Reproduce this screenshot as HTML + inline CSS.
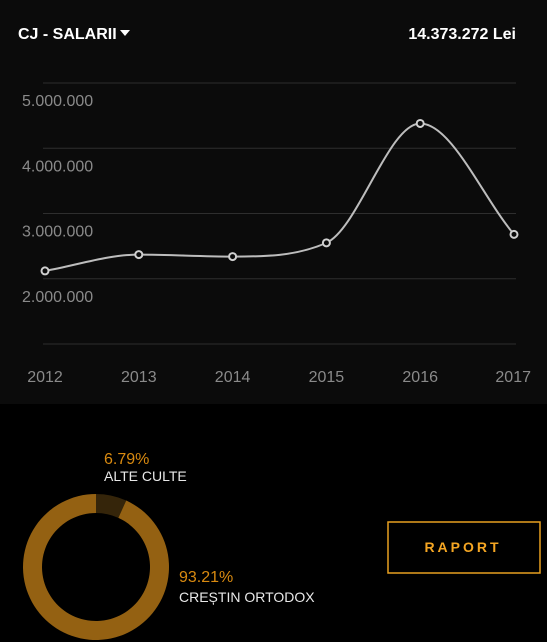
<!DOCTYPE html>
<html><head><meta charset="utf-8"><style>
html,body{margin:0;padding:0;background:#000;width:547px;height:642px;overflow:hidden;font-family:"Liberation Sans",sans-serif}
#top{position:absolute;left:0;top:0;width:547px;height:404px;background:#0b0b0b}
svg{position:absolute;left:0;top:0}
</style></head><body>
<div id="top"></div>
<svg id="chart" width="547" height="642">
  <text x="18" y="39" fill="#fff" font-size="16" font-weight="bold">CJ - SALARII</text>
  <path d="M120,30 L130,30 L125,36 Z" fill="#fff"/>
  <text x="516" y="39" fill="#fff" font-size="16" font-weight="bold" text-anchor="end">14.373.272 Lei</text>
  <g id="grid"></g><g id="yl"></g><g id="xl"></g><path id="line" fill="none" stroke="#bdbdbd" stroke-width="2"/><g id="pts"></g>
  <g id="donut"></g>
  <text x="104" y="464" fill="#d98a10" font-size="16">6.79%</text>
  <text x="104" y="481" fill="#e8e8e8" font-size="14">ALTE CULTE</text>
  <text x="179" y="582" fill="#d98a10" font-size="16">93.21%</text>
  <text x="179" y="602" fill="#e8e8e8" font-size="14">CREȘTIN ORTODOX</text>
  <rect x="388" y="522" width="152" height="51" fill="none" stroke="#e8a020" stroke-width="1.5"/>
  <text x="463" y="552" fill="#f5a623" font-size="14" font-weight="bold" text-anchor="middle" letter-spacing="3">RAPORT</text>
</svg>
<script>
const years=["2012","2013","2014","2015","2016","2017"];
const values=[2120000,2370000,2340000,2550000,4380000,2680000];
const yTicks=[5000000,4000000,3000000,2000000,1000000];
const yTickLabels=["5.000.000","4.000.000","3.000.000","2.000.000",""];
const pieLabels=["ALTE CULTE","CREȘTIN ORTODOX"];
const pieValues=[6.79,93.21];
const NS="http://www.w3.org/2000/svg";
function xs(i){return 45+i*(514-45)/(years.length-1);}
function ys(v){return 344-(v-1000000)*65.25/1000000;}
function mk(t,a,p){const e=document.createElementNS(NS,t);for(const k in a)e.setAttribute(k,a[k]);p.appendChild(e);return e;}
const grid=document.getElementById('grid'),yl=document.getElementById('yl'),xl=document.getElementById('xl'),pts=document.getElementById('pts');
yTicks.forEach((t,i)=>{
  const l=mk('line',{x1:43,x2:516,y1:ys(t),y2:ys(t),stroke:'#2e2e2e','stroke-width':1},grid);
  
  
  if(yTickLabels[i]){const tx=mk('text',{x:22,y:ys(t)+23,fill:'#8a8a8a','font-size':16},yl);tx.textContent=yTickLabels[i];
  
  }
});
years.forEach((y,i)=>{
  const anchor=i===years.length-1?'end':'middle';
  const tx=mk('text',{x:i===years.length-1?531:xs(i),y:382,fill:'#8a8a8a','font-size':16,'text-anchor':anchor},xl);tx.textContent=y;
  
  
});
const P=values.map((v,i)=>[xs(i),ys(v)]);const n=P.length;
const d=[],m=[];for(let i=0;i<n-1;i++)d.push((P[i+1][1]-P[i][1])/(P[i+1][0]-P[i][0]));
m[0]=d[0];m[n-1]=d[n-2];for(let i=1;i<n-1;i++)m[i]=(d[i-1]*d[i]<=0)?0:(d[i-1]+d[i])/2;
for(let i=0;i<n-1;i++){if(d[i]===0){m[i]=m[i+1]=0;continue;}const a=m[i]/d[i],b=m[i+1]/d[i],s=a*a+b*b;if(s>9){const t=3/Math.sqrt(s);m[i]=t*a*d[i];m[i+1]=t*b*d[i];}}
let path=`M${P[0][0]},${P[0][1]}`;
for(let i=0;i<n-1;i++){const h=(P[i+1][0]-P[i][0])/3;path+=` C${P[i][0]+h},${P[i][1]+m[i]*h} ${P[i+1][0]-h},${P[i+1][1]-m[i+1]*h} ${P[i+1][0]},${P[i+1][1]}`;}
document.getElementById('line').setAttribute('d',path);
P.forEach(p=>{const c=mk('circle',{cx:p[0],cy:p[1],r:3.5,fill:'#0b0b0b',stroke:'#d0d0d0','stroke-width':2},pts);
  
  });
const cx=96,cy=567,ro=73,ri=54,cols=['#35250a','#946112'];const tot=pieValues.reduce((a,b)=>a+b,0);let a0=0;
const dg=document.getElementById('donut');
pieValues.forEach((v,i)=>{const a1=a0+v/tot*2*Math.PI;const lg=(a1-a0)>Math.PI?1:0;
  const pt=(r,a)=>[cx+r*Math.sin(a),cy-r*Math.cos(a)];
  const [x1,y1]=pt(ro,a0),[x2,y2]=pt(ro,a1),[x3,y3]=pt(ri,a1),[x4,y4]=pt(ri,a0);
  const s=mk('path',{d:`M${x1},${y1} A${ro},${ro} 0 ${lg} 1 ${x2},${y2} L${x3},${y3} A${ri},${ri} 0 ${lg} 0 ${x4},${y4} Z`,fill:cols[i]},dg);
  
  
  a0=a1;});
</script>
</body></html>
